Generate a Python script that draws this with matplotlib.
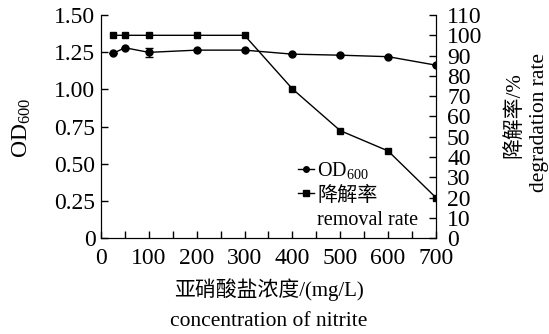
import matplotlib as mpl
mpl.use('Agg')
import matplotlib.pyplot as plt
from matplotlib.lines import Line2D

plt.rcParams['font.family'] = ['Liberation Serif', 'Noto Sans CJK SC']
plt.rcParams['mathtext.fontset'] = 'custom'
plt.rcParams['mathtext.rm'] = 'Liberation Serif'
plt.rcParams['mathtext.it'] = 'Liberation Serif:italic'

# data
conc = [25, 50, 100, 200, 300, 400, 500, 600, 700]
od600 = [1.242, 1.28, 1.249, 1.264, 1.264, 1.237, 1.23, 1.22, 1.163]
od_err = [0, 0, 0.03, 0, 0, 0, 0, 0, 0]
degr = [100, 100, 100, 100, 100, 73.6, 53, 43, 20]

fs = 17
fig = plt.figure(figsize=(5.49, 3.34), dpi=100)
ax = fig.add_axes([0.184, 0.287, 0.61, 0.668])
ax2 = ax.twinx()

ax.errorbar(conc, od600, yerr=od_err, color='black', marker='o', markersize=5,
            linewidth=1, capsize=3, elinewidth=1)
ax2.plot(conc, degr, color='black', marker='s', markersize=5, linewidth=1)

ax.set_xlim(0, 700)
ax.set_ylim(0, 1.5)
ax2.set_ylim(0, 110)
ax.set_xticks(range(0, 701, 100))
ax.set_xticks(range(0, 701, 50), minor=True)
ax.set_yticks([0, 0.25, 0.5, 0.75, 1.0, 1.25, 1.5])
ax.set_yticklabels(['0', '0.25', '0.50', '0.75', '1.00', '1.25', '1.50'])
ax2.set_yticks(range(0, 111, 10))

for a in (ax, ax2):
    a.spines['top'].set_visible(False)
    a.tick_params(direction='in', labelsize=fs, length=5, width=1, pad=4)
ax.tick_params(axis='x', which='minor', direction='in', length=5, width=1)
ax.tick_params(axis='x', which='major', pad=7)
ax2.tick_params(axis='y', pad=8)

fig.text(0.040, 0.617, 'OD$_{600}$', rotation=90, ha='center', va='center', fontsize=fs)
fig.text(0.937, 0.655, '降解率/%', rotation=90, ha='center', va='center', fontsize=fs - 2)
fig.text(0.982, 0.632, 'degradation rate', rotation=90, ha='center', va='center', fontsize=fs - 1.5)
fig.text(0.489, 0.132, '亚硝酸盐浓度/(mg/L)', ha='center', va='center', fontsize=fs - 2)
fig.text(0.489, 0.036, 'concentration of nitrite', ha='center', va='center', fontsize=fs - 1.5)

h1 = Line2D([], [], color='black', marker='o', markersize=4, linewidth=1)
h2 = Line2D([], [], color='black', marker='s', markersize=4, linewidth=1)
h3 = Line2D([], [], color='none')
leg = ax.legend([h1, h2, h3], ['OD$_{600}$', '降解率', 'removal rate'],
                loc='lower right', bbox_to_anchor=(0.99, -0.025), frameon=False,
                fontsize=14.5, handlelength=0.8, handletextpad=0.15,
                labelspacing=0.25, borderpad=0.2)

fig.savefig('out.png', dpi=100)
